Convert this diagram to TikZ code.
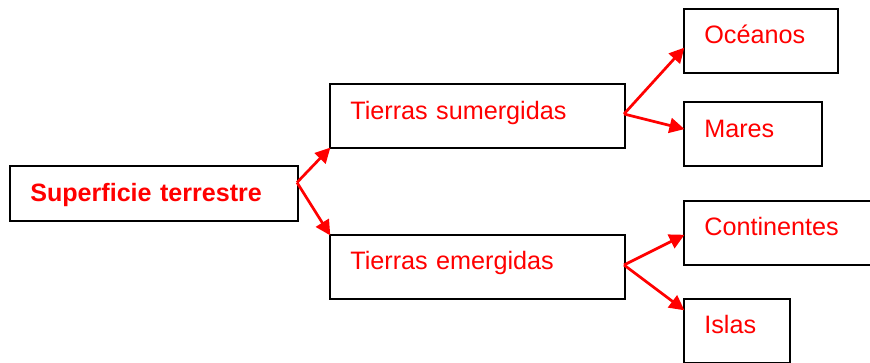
\documentclass[tikz,border=0pt]{standalone}
\usepackage{fontspec}
\setmainfont{Liberation Sans}
\usetikzlibrary{arrows.meta}
\tikzset{
  x=1pt,y=-1pt,
  % #1 width, #2 height, #3 baseline offset from top
  box/.style n args={3}{draw=black,line width=2.2pt,fill=white,rectangle,anchor=north west,
    outer sep=0pt,inner ysep=0pt,inner xsep=20.3pt,align=left,
    text width=#1pt-40.6pt,text height=#3pt,text depth=#2pt-#3pt,text=red,
    font=\fontsize{25.2pt}{30pt}\selectfont},
  link/.style={draw=red,line width=2.7pt,-{Triangle[length=15pt,width=15pt]},shorten >=-0.5pt}
}
\begin{document}
\begin{tikzpicture}
\useasboundingbox (0,0) rectangle (870,363);
\node[box={288}{55}{36},font=\fontsize{25.1pt}{30pt}\selectfont\bfseries] (sup) at (10,166) {Superficie terrestre};
\node[box={295}{64}{36}] (sum) at (330,84) {Tierras sumergidas};
\node[box={295}{64}{35}] (eme) at (330,235) {Tierras emergidas};
\node[box={154}{64}{35}] (oce) at (684,9) {Océanos};
\node[box={138}{64}{36}] (mar) at (684,102) {Mares};
\node[box={200}{64}{35}] (con) at (684,201) {Continentes};
\node[box={106}{64}{35}] (isl) at (684,299) {Islas};
\coordinate (s0) at (297,182.5);
\coordinate (s1) at (624,114);
\coordinate (s2) at (624,265);
\coordinate (toce) at (684,48);
\coordinate (tmar) at (684,129);
\coordinate (tcon) at (684,235);
\coordinate (tisl) at (684,310);
\draw[link] (s0) -- (sum.south west);
\draw[link] (s0) -- (eme.north west);
\draw[link] (s1) -- (toce);
\draw[link] (s1) -- (tmar);
\draw[link] (s2) -- (tcon);
\draw[link] (s2) -- (tisl);
\end{tikzpicture}
\end{document}
